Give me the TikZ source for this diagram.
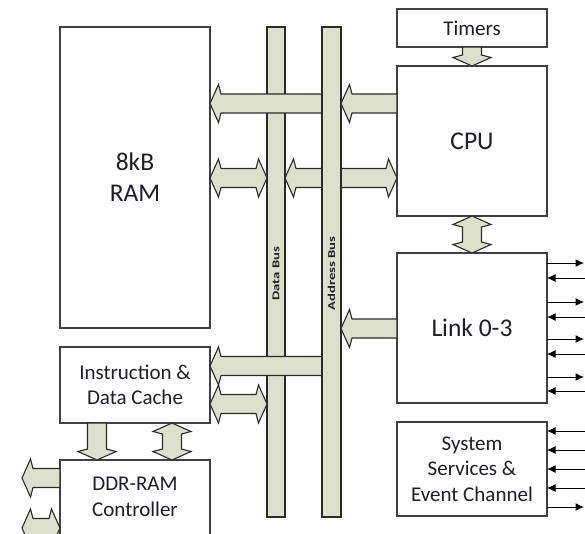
\documentclass[tikz,border=0pt]{standalone}
\usepackage{fontspec}
\setmainfont{Carlito}
\usetikzlibrary{calc,arrows.meta}
\definecolor{busfill}{HTML}{DDE0CC}
\definecolor{edge}{HTML}{404040}
\definecolor{edgedark}{HTML}{2A2A2A}
\definecolor{txt}{HTML}{1E1E28}
\def\faw{9.5pt}
\def\fah{19pt}
% single fat arrow: #1 tail, #2 tip
\newcommand\fatsingle[2]{%
  \coordinate (fa1) at #1; \coordinate (fa2) at #2;
  \coordinate (fj) at ($(fa2)!11pt!(fa1)$);
  \coordinate (fk) at ($(fa2)!8.5pt!(fa1)$);
  \draw[fat] ($(fa1)!\faw!90:(fa2)$) -- ($(fj)!\faw!-90:(fa1)$) -- ($(fk)!\fah!-90:(fa1)$)
    -- (fa2) -- ($(fk)!\fah!90:(fa1)$) -- ($(fj)!\faw!90:(fa1)$) -- ($(fa1)!\faw!-90:(fa2)$) -- cycle;}
% double fat arrow: #1 tip, #2 tip
\newcommand\fatdouble[2]{%
  \coordinate (fa1) at #1; \coordinate (fa2) at #2;
  \coordinate (fj) at ($(fa2)!11pt!(fa1)$);
  \coordinate (fk) at ($(fa2)!8.5pt!(fa1)$);
  \coordinate (gj) at ($(fa1)!11pt!(fa2)$);
  \coordinate (gk) at ($(fa1)!8.5pt!(fa2)$);
  \draw[fat] (fa1) -- ($(gk)!\fah!90:(fa2)$) -- ($(gj)!\faw!90:(fa2)$) -- ($(fj)!\faw!-90:(fa1)$) -- ($(fk)!\fah!-90:(fa1)$)
    -- (fa2) -- ($(fk)!\fah!90:(fa1)$) -- ($(fj)!\faw!90:(fa1)$) -- ($(gj)!\faw!-90:(fa2)$) -- ($(gk)!\fah!-90:(fa2)$) -- cycle;}
\tikzset{
  box/.style={draw=edge, line width=1.3pt, fill=white, inner sep=0pt, outer sep=0pt, text=txt, align=center},
  fat/.style={draw=edgedark, line width=1.1pt, fill=busfill, line join=miter},
  bus/.style={draw=edgedark, line width=1.2pt, fill=busfill, inner sep=0pt, outer sep=0pt},
  sigout/.style={line width=1pt, -{Latex[length=8.5pt,width=8pt]}},
  sigin/.style={line width=1pt, {Latex[length=8.5pt,width=8pt]}-},
  big/.style={font=\fontsize{25.5}{31}\selectfont},
  small/.style={font=\fontsize{21}{25.5}\selectfont},
  buslabel/.style={rotate=90, text=txt, font=\fontsize{10.5}{12}\selectfont\bfseries},
}
\begin{document}
\begin{tikzpicture}[x=1pt,y=-1pt]
\useasboundingbox (0,0) rectangle (585,533);
\clip (0,0) rectangle (585,533);
% boxes
\node[box, big, minimum width=150pt, minimum height=301pt, anchor=north west] (ram) at (60,27) {8kB\\RAM};
\node[box, small, minimum width=150pt, minimum height=38pt, anchor=north west] (timers) at (397,9) {Timers};
\node[box, big, minimum width=150pt, minimum height=150pt, anchor=north west] (cpu) at (397,66) {CPU};
\node[box, big, minimum width=150pt, minimum height=150pt, anchor=north west] (link) at (397,253) {Link 0-3};
\node[box, small, minimum width=150pt, minimum height=94pt, anchor=north west] (sys) at (397,422) {System\\Services \&\\Event Channel};
\node[box, small, minimum width=150pt, minimum height=76pt, anchor=north west] (cache) at (60,347) {Instruction \&\\Data Cache};
\node[box, minimum width=150pt, minimum height=100pt, anchor=north west] (ddr) at (60,460) {};
\node[small, text=txt, align=center] (ddrtext) at (135,497) {DDR-RAM\\Controller};
% data bus
\node[bus, minimum width=18pt, minimum height=490pt, anchor=north west] (dbus) at (267,27) {};
% arrows across the data bus
\fatsingle{(331,103.5)}{(ram.east |- 0,103.5)}
\fatsingle{(331,366)}{(cache.east |- 0,366)}
\fatdouble{(dbus.east |- 0,178)}{(cpu.west |- 0,178)}
% address bus
\node[bus, minimum width=19pt, minimum height=490pt, anchor=north west] (abus) at (322,27) {};
\node[buslabel] (dlabel) at (dbus.center |- 0,273.5) {\scalebox{1.4}[1]{Data Bus}};
\node[buslabel] (alabel) at (abus.center |- 0,273.5) {\scalebox{1.4}[1]{Address Bus}};
% other fat arrows
\fatsingle{(cpu.west |- 0,103.5)}{(abus.east |- 0,103.5)}
\fatsingle{(timers.south)}{(cpu.north)}
\fatsingle{(link.west |- 0,328.5)}{(abus.east |- 0,328.5)}
\fatsingle{(cache.south -| 97,0)}{(ddr.north -| 97,0)}
\fatsingle{(ddr.west |- 0,478)}{(22,478)}
\fatdouble{(ram.east |- 0,178)}{(dbus.west |- 0,178)}
\fatdouble{(cpu.south)}{(link.north)}
\fatdouble{(cache.east |- 0,404)}{(dbus.west |- 0,404)}
\fatdouble{(cache.south -| 172,0)}{(ddr.north -| 172,0)}
\fatdouble{(22,528)}{(ddr.west |- 0,528)}
% signal lines
\foreach \y in {263,302,339,377} \draw[sigout] (link.east |- 0,\y) -- ++(37,0);
\foreach \y in {278,317,354,391} \draw[sigin] (link.east |- 0,\y) -- ++(39,0);
\foreach \y in {431,450,469,488} \draw[sigin] (sys.east |- 0,\y) -- ++(39,0);
\draw[sigout] (sys.east |- 0,507) -- ++(37,0);
\end{tikzpicture}
\end{document}
